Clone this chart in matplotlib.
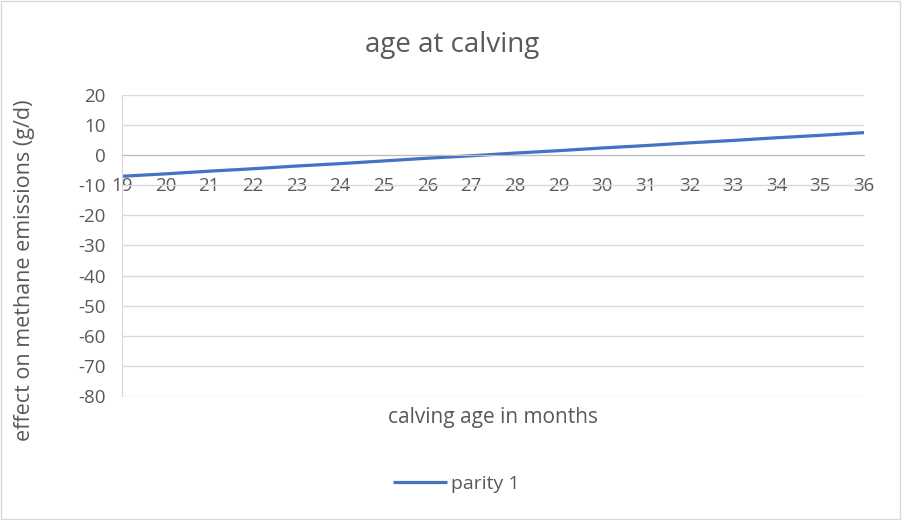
import matplotlib.pyplot as plt
from matplotlib.patches import Rectangle

plt.rcParams['font.family'] = ['Open Sans', 'DejaVu Sans']
plt.rcParams['axes.unicode_minus'] = False

ages = list(range(19, 37))
parity1 = [-7.0, -6.2, -5.3, -4.5, -3.6, -2.8, -1.9, -1.0, -0.2,
           0.7, 1.5, 2.4, 3.2, 4.1, 4.9, 5.8, 6.6, 7.5]
y_ticks = list(range(-80, 21, 10))

grey_txt = '#595959'

fig = plt.figure(figsize=(9.02, 5.2), dpi=100)
fig.patches.append(Rectangle((0.001, 0.001), 0.997, 0.997, transform=fig.transFigure,
                             fill=False, edgecolor='#d9d9d9', lw=1))
ax = fig.add_axes([122 / 902, 1 - 396 / 520, 742 / 902, 301 / 520])

ax.plot(ages, parity1, color='#4472C4', lw=2.3, label='parity 1', solid_capstyle='butt')

ax.set_xlim(ages[0], ages[-1])
ax.set_ylim(-80, 20)
ax.set_yticks(y_ticks)
ax.set_xticks(ages)
ax.grid(axis='y', color='#d9d9d9', lw=1)
ax.set_axisbelow(True)

for s in ['top', 'right']:
    ax.spines[s].set_visible(False)
ax.spines['bottom'].set_position(('data', 0))
ax.spines['bottom'].set_color('#bfbfbf')
ax.spines['left'].set_color('#d9d9d9')
ax.tick_params(axis='both', length=0, labelsize=13.5, labelcolor=grey_txt)
ax.tick_params(axis='x', pad=16)
ax.tick_params(axis='y', pad=12)

fig.text(452 / 902, 1 - 45 / 520, 'age at calving', ha='center', va='center',
         fontsize=20, color=grey_txt)
fig.text(493 / 902, 1 - 417 / 520, 'calving age in months', ha='center', va='center',
         fontsize=15, color=grey_txt)
fig.text(25 / 902, 1 - 270 / 520, 'effect on methane emissions (g/d)', ha='center',
         va='center', rotation=90, fontsize=15.5, color=grey_txt)

fig.legend(loc='center', bbox_to_anchor=(456 / 902, 1 - 484 / 520), frameon=False,
           labelcolor=grey_txt, handlelength=2.8, handletextpad=0.2,
           prop={'size': 14})

fig.savefig('out.png', dpi=100)
